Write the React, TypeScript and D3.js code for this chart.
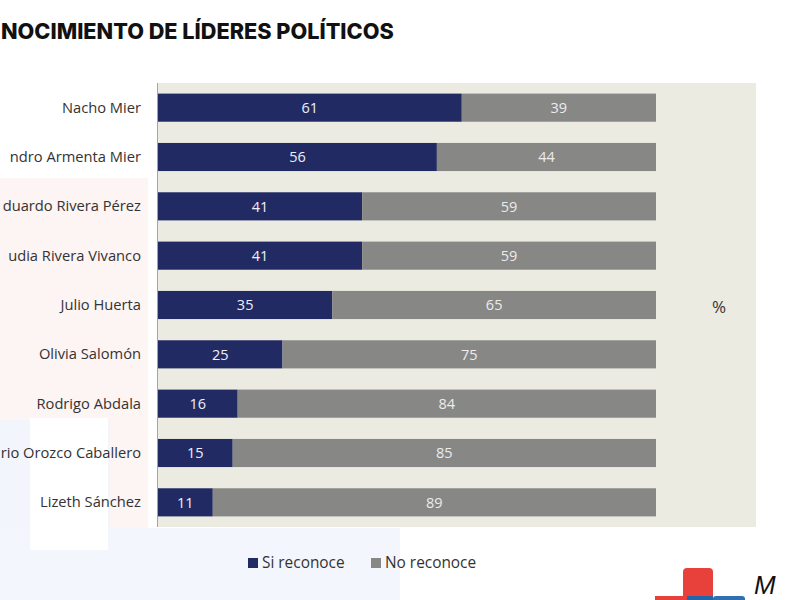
import React from 'react';
import * as d3 from 'd3';

const leaders = [
  'Nacho Mier',
  'ndro Armenta Mier',
  'duardo Rivera Pérez',
  'udia Rivera Vivanco',
  'Julio Huerta',
  'Olivia Salomón',
  'Rodrigo Abdala',
  'rio Orozco Caballero',
  'Lizeth Sánchez',
];
const siReconoce = [61, 56, 41, 41, 35, 25, 16, 15, 11];
const noReconoce = [39, 44, 59, 59, 65, 75, 84, 85, 89];
const seriesNames = ['Si reconoce', 'No reconoce'];

const W = 800;
const H = 600;
const NAVY = '#222a64';
const GRAY = '#878786';
const PANEL = '#ecebe2';
const LABEL_FONT = '"Open Sans", "Noto Sans", sans-serif';

export default function App() {
  const x = d3.scaleLinear().domain([0, 100]).range([158, 656]);
  const y = d3
    .scaleBand<string>()
    .domain(leaders)
    .range([83, 527])
    .paddingInner(0.43)
    .paddingOuter(0.215);

  const rows = leaders.map((name, i) => ({
    name,
    si: siReconoce[i],
    no: noReconoce[i],
  }));

  return (
    <div style={{ position: 'absolute', left: 0, top: 0 }}>
      <svg width={W} height={H} style={{ display: 'block' }}>
        <rect width={W} height={H} fill="#ffffff" />
        {/* faint background shapes */}
        <rect x={0} y={178} width={148} height={422} fill="#fdf4f4" />
        <rect x={0} y={420} width={110} height={180} fill="#f2f5fb" />
        <rect x={0} y={528} width={400} height={72} fill="#f3f6fc" />
        <rect x={30} y={418} width={78} height={132} fill="#ffffff" />

        <text
          x={1}
          y={39}
          fontFamily="Inter, sans-serif"
          fontWeight={800}
          fontSize={21.7}
          fill="#111"
        >
          NOCIMIENTO DE LÍDERES POLÍTICOS
        </text>

        {/* plot panel */}
        <rect x={157} y={83} width={599} height={444} fill={PANEL} />
        <line x1={157.5} x2={157.5} y1={83} y2={527} stroke="#a5a5a0" strokeWidth={1} />

        {rows.map((d) => {
          const by = y(d.name)!;
          const bh = y.bandwidth();
          const cy = by + bh / 2;
          return (
            <g key={d.name}>
              <text
                x={141}
                y={cy}
                dy="0.35em"
                textAnchor="end"
                fontFamily={LABEL_FONT}
                fontSize={14.7}
                fill="#333"
              >
                {d.name}
              </text>
              <rect x={x(0)} y={by} width={x(d.si) - x(0)} height={bh} fill={NAVY} />
              <rect x={x(d.si)} y={by} width={x(d.si + d.no) - x(d.si)} height={bh} fill={GRAY} />
              <text
                x={(x(0) + x(d.si)) / 2}
                y={cy}
                dy="0.36em"
                textAnchor="middle"
                fontFamily={LABEL_FONT}
                fontSize={14.5}
                fill="#eef0f6"
              >
                {d.si}
              </text>
              <text
                x={(x(d.si) + x(d.si + d.no)) / 2}
                y={cy}
                dy="0.36em"
                textAnchor="middle"
                fontFamily={LABEL_FONT}
                fontSize={14.5}
                fill="#ececec"
              >
                {d.no}
              </text>
            </g>
          );
        })}

        <text x={719} y={307} dy="0.35em" textAnchor="middle" fontFamily={LABEL_FONT} fontSize={17} fill="#333">
          %
        </text>

        {/* legend */}
        {seriesNames.map((s, i) => {
          const lx = i === 0 ? 248 : 371;
          return (
            <g key={s}>
              <rect x={lx} y={558} width={10} height={10} fill={i === 0 ? NAVY : GRAY} />
              <text x={lx + 14} y={563} dy="0.35em" fontFamily={LABEL_FONT} fontSize={15.4} fill="#333">
                {s}
              </text>
            </g>
          );
        })}

        {/* logo */}
        <rect x={683} y={568} width={30} height={40} rx={4} fill="#e8403a" />
        <rect x={655} y={596} width={40} height={10} fill="#e8403a" />
        <rect x={687} y={596} width={26} height={10} fill="#2464a8" />
        <rect x={713} y={596} width={32} height={10} rx={3} fill="#2f6fb2" />
        <text x={754} y={594} fontFamily="Liberation Sans, sans-serif" fontStyle="italic" fontSize={26} fill="#111">
          M
        </text>
      </svg>
    </div>
  );
}
